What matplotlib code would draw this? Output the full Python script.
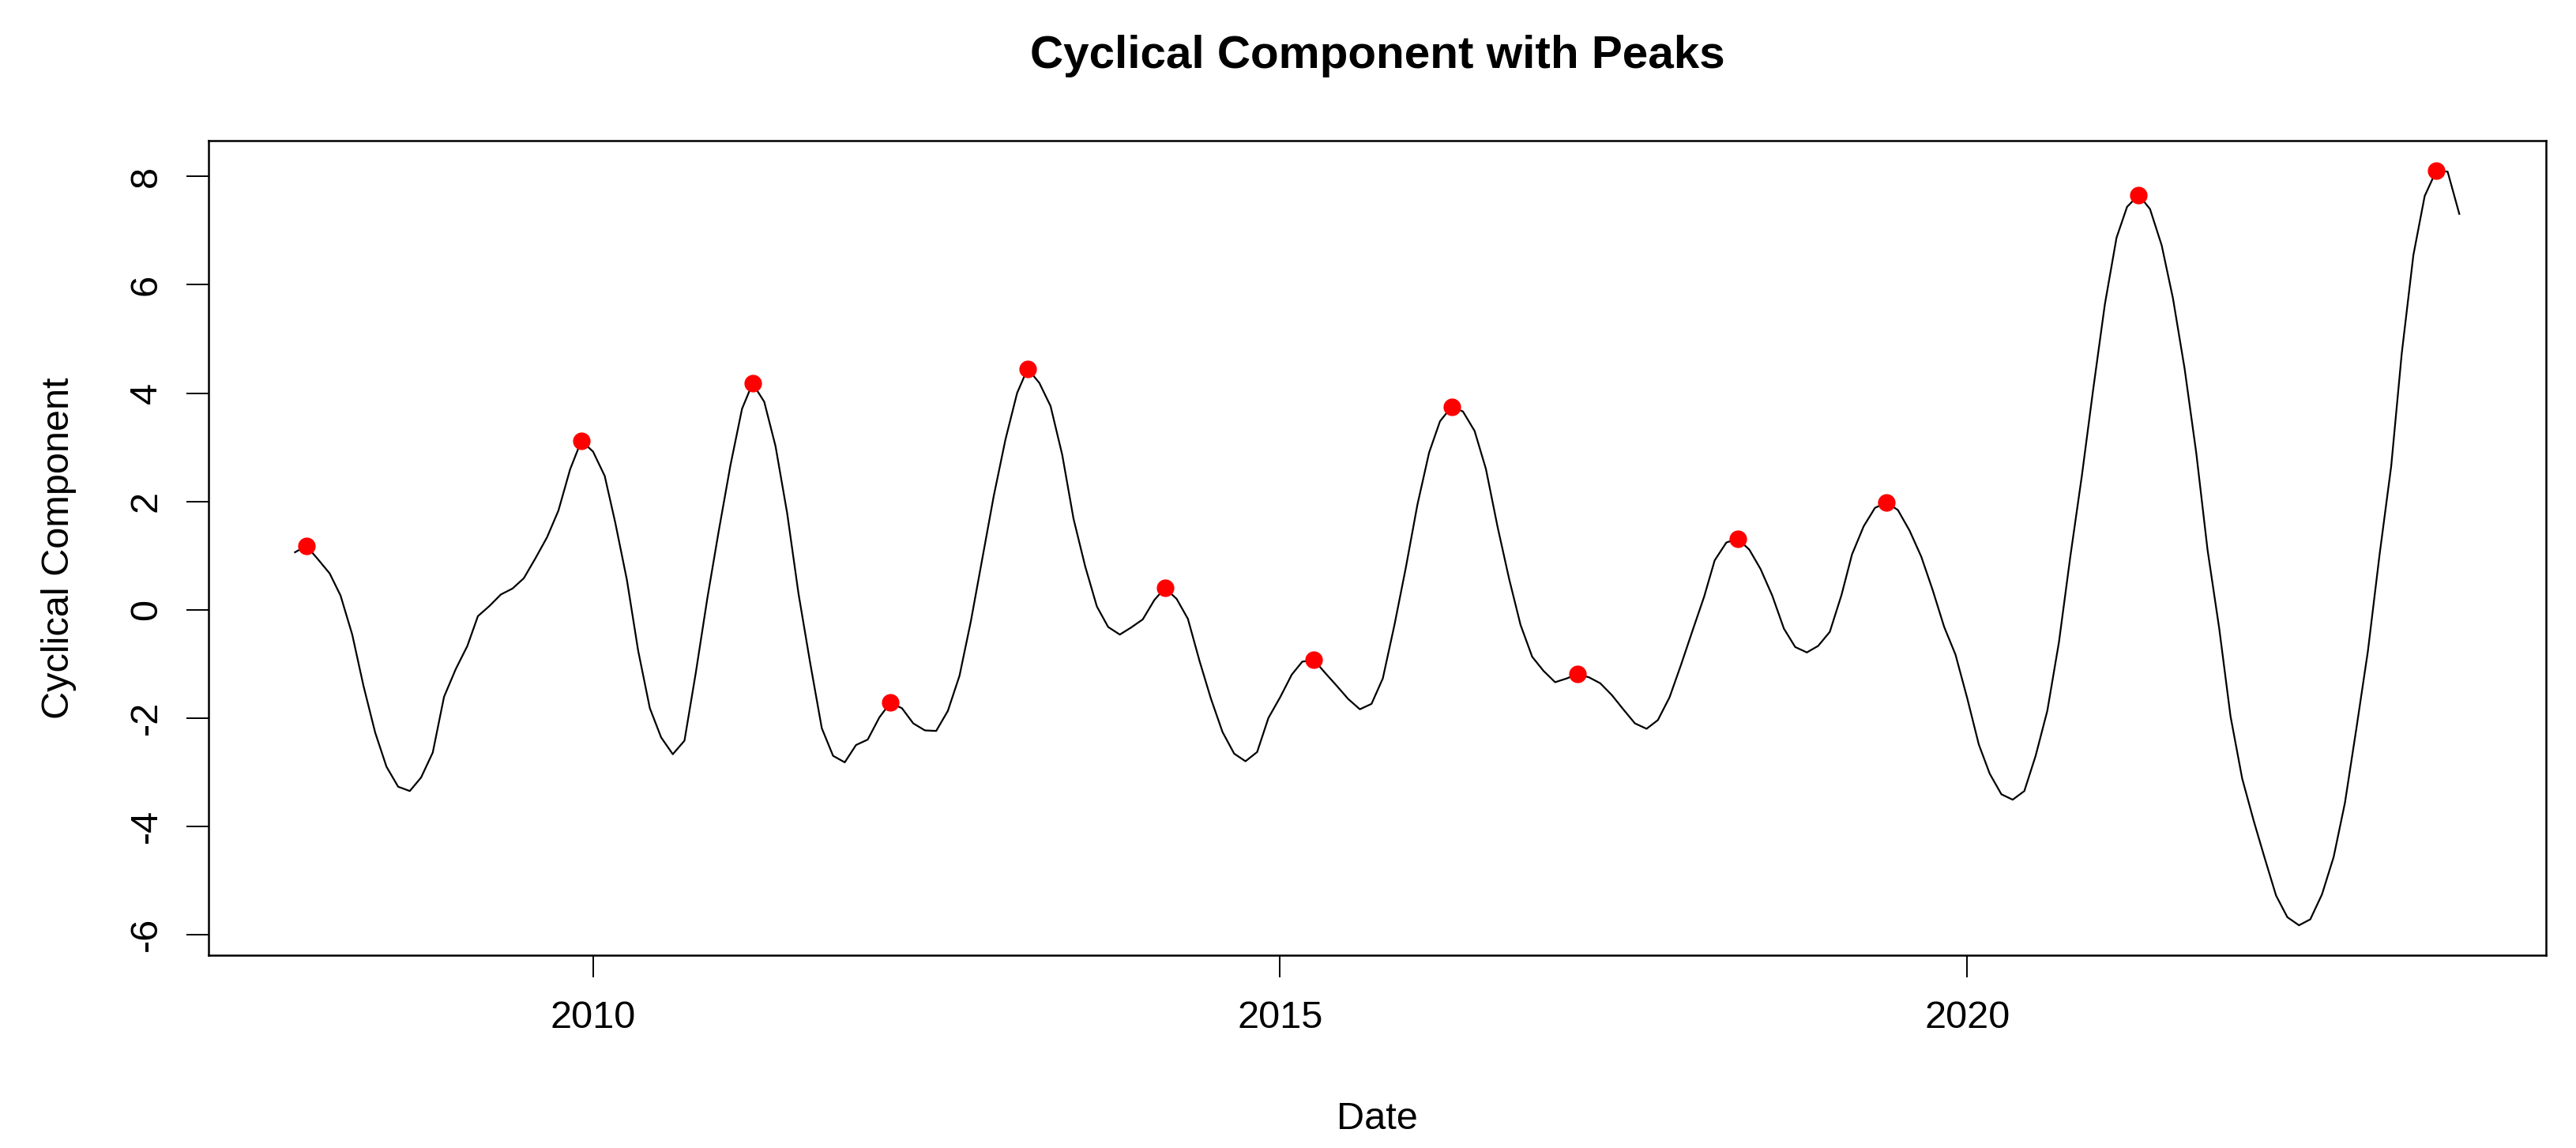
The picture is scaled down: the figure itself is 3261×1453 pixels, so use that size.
import matplotlib
matplotlib.use("Agg")
import matplotlib.pyplot as plt
import matplotlib.dates as mdates
import pandas as pd

# monthly cyclical component, Nov 2007 - Aug 2023
start_month = "2007-11-01"
cycle_values = [
    1.06, 1.18, 0.93, 0.67, 0.26, -0.46, -1.41, -2.27, -2.90, -3.27,
    -3.35, -3.10, -2.64, -1.61, -1.10, -0.67, -0.12, 0.07, 0.28, 0.39,
    0.58, 0.95, 1.34, 1.83, 2.59, 3.12, 2.92, 2.47, 1.61, 0.55,
    -0.76, -1.82, -2.36, -2.67, -2.42, -1.17, 0.22, 1.45, 2.66, 3.71,
    4.18, 3.84, 3.02, 1.78, 0.30, -0.98, -2.19, -2.70, -2.82, -2.50,
    -2.40, -1.99, -1.72, -1.82, -2.10, -2.23, -2.24, -1.87, -1.22, -0.22,
    0.96, 2.10, 3.14, 4.00, 4.45, 4.19, 3.76, 2.86, 1.68, 0.80,
    0.06, -0.32, -0.46, -0.33, -0.18, 0.18, 0.40, 0.20, -0.17, -0.95,
    -1.64, -2.26, -2.66, -2.80, -2.63, -2.00, -1.62, -1.20, -0.96, -0.93,
    -1.17, -1.41, -1.65, -1.84, -1.74, -1.27, -0.28, 0.77, 1.94, 2.90,
    3.48, 3.75, 3.66, 3.30, 2.60, 1.53, 0.56, -0.28, -0.87, -1.13,
    -1.34, -1.27, -1.19, -1.25, -1.36, -1.58, -1.84, -2.10, -2.20, -2.04,
    -1.62, -1.03, -0.39, 0.24, 0.91, 1.24, 1.31, 1.11, 0.75, 0.26,
    -0.35, -0.69, -0.79, -0.67, -0.41, 0.27, 1.02, 1.54, 1.88, 1.98,
    1.84, 1.46, 0.98, 0.37, -0.32, -0.83, -1.63, -2.49, -3.03, -3.41,
    -3.51, -3.35, -2.70, -1.87, -0.60, 0.97, 2.48, 4.07, 5.64, 6.87,
    7.44, 7.66, 7.40, 6.73, 5.75, 4.45, 2.89, 1.10, -0.35, -1.97,
    -3.12, -3.91, -4.57, -5.28, -5.68, -5.83, -5.72, -5.26, -4.57, -3.57,
    -2.17, -0.77, 1.01, 2.65, 4.73, 6.55, 7.64, 8.11, 8.09, 7.31,
]

# months flagged as peaks
peak_months = [
    "2007-12-01", "2009-12-01", "2011-03-01", "2012-03-01", "2013-03-01",
    "2014-03-01", "2015-04-01", "2016-04-01", "2017-03-01", "2018-05-01",
    "2019-06-01", "2021-04-01", "2023-06-01",
]

y_ticks = [-6, -4, -2, 0, 2, 4, 6, 8]

series = pd.Series(cycle_values,
                   index=pd.date_range(start_month, periods=len(cycle_values), freq="MS"))
peaks = series.loc[pd.to_datetime(peak_months)]

plt.rcParams["font.family"] = ["Liberation Sans", "DejaVu Sans"]
plt.rcParams["axes.unicode_minus"] = False

fig = plt.figure(figsize=(32.62, 14.53), dpi=100)
ax = fig.add_axes([0.0809, 0.1677, 0.9071, 0.7100])

ax.plot(series.index, series.values, color="black", lw=1.6)
ax.plot(peaks.index, peaks.values, "o", color="red", ms=15, mec="red")

ax.margins(x=0.04, y=0.04)
ax.xaxis.set_major_locator(mdates.YearLocator(5))
ax.xaxis.set_major_formatter(mdates.DateFormatter("%Y"))
ax.set_yticks(y_ticks)

for side in ax.spines.values():
    side.set_linewidth(1.8)
ax.tick_params(direction="out", length=20, width=1.4, labelsize=35, pad=20.5)
plt.setp(ax.get_yticklabels(), rotation=90, va="center", ha="right")

ax.set_title("Cyclical Component with Peaks", fontsize=42, fontweight="bold", pad=66)
ax.set_xlabel("Date", fontsize=35, labelpad=60)
ax.set_ylabel("Cyclical Component", fontsize=35, labelpad=47)

fig.savefig("out.png", dpi=100)
